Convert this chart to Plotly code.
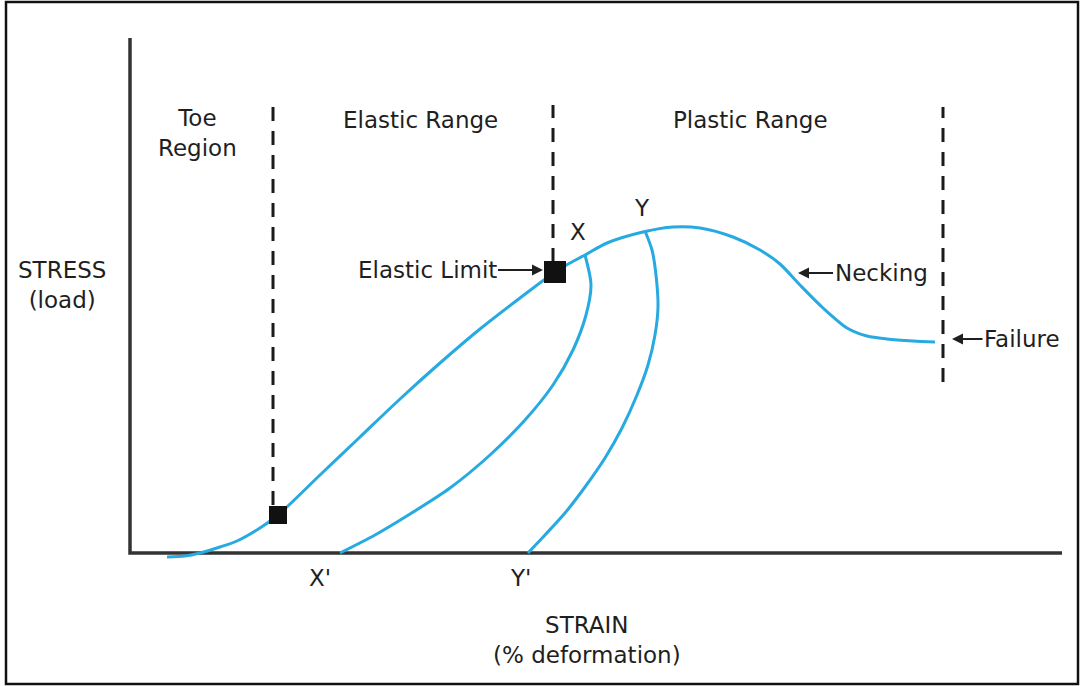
import plotly.graph_objects as go

# Units: arbitrary (no ticks in the original); strain to the right, stress upward,
# origin at the corner of the axes.
main_strain = [37, 55, 70, 90, 107, 130, 148, 190, 230, 270, 310, 350, 390, 425,
               440, 455, 477, 513, 543, 570, 603, 630, 650, 670, 693, 717, 737, 757, 783, 805]
main_stress = [-4, -3, 0, 6, 12, 25, 38, 78, 116, 154, 190, 224, 255, 281,
               290, 298, 310, 321, 326, 325, 316, 303, 289, 268, 245, 225, 217, 214, 212, 211]

x_unload_strain = [455, 461, 456, 443, 423, 395, 360, 320, 280, 245, 210]
x_unload_stress = [298, 268, 238, 203, 168, 133, 98, 65, 39, 18, 0]

y_unload_strain = [515, 522, 526, 528, 525, 518, 507, 492, 475, 455, 435, 415, 398]
y_unload_stress = [322, 303, 278, 246, 218, 188, 158, 125, 95, 66, 40, 18, 0]

point_strain = [148, 425]
point_stress = [38, 281]
point_sizes = [18, 22]

boundary_strain = [143, 423, 813]
boundary_bottom = [48, 291, 171]
boundary_top = [446, 448, 446]

region_labels = ["Toe<br>Region", "Elastic Range", "Plastic Range"]
region_label_x = [67, 290, 620]
region_label_y = [420, 433, 433]

axis_len_strain = 932
axis_len_stress = 515

BLUE = "#27a9e1"
INK = "#1f1f1f"
FONT = "DejaVu Sans"
FS = 23

fig = go.Figure()

# axes lines
fig.add_trace(go.Scatter(x=[0, 0, axis_len_strain], y=[axis_len_stress, 0, 0], mode="lines",
                         line=dict(color="#333333", width=3.5), hoverinfo="skip", showlegend=False))

# dashed boundaries
for bx, b0, b1 in zip(boundary_strain, boundary_bottom, boundary_top):
    fig.add_trace(go.Scatter(x=[bx, bx], y=[b0, b1], mode="lines",
                             line=dict(color="#1a1a1a", width=3, dash="14px,10px"),
                             hoverinfo="skip", showlegend=False))

# curves
for xs, ys in [(main_strain, main_stress), (x_unload_strain, x_unload_stress),
               (y_unload_strain, y_unload_stress)]:
    fig.add_trace(go.Scatter(x=xs, y=ys, mode="lines",
                             line=dict(color=BLUE, width=3, shape="spline", smoothing=0.8),
                             hoverinfo="skip", showlegend=False))

# square markers
fig.add_trace(go.Scatter(x=point_strain, y=point_stress, mode="markers",
                         marker=dict(symbol="square", size=point_sizes, color="#111111",
                                     opacity=1, line=dict(width=0)),
                         opacity=1, hoverinfo="skip", showlegend=False))

font = dict(family=FONT, size=FS, color=INK)
ann = []
for t, x, y in zip(region_labels, region_label_x, region_label_y):
    ann.append(dict(x=x, y=y, text=t, showarrow=False, font=font))

ann += [
    dict(x=448, y=321, text="X", showarrow=False, font=font),
    dict(x=512, y=345, text="Y", showarrow=False, font=font),
    dict(x=190, y=-25, text="X'", showarrow=False, font=font),
    dict(x=390, y=-25, text="Y'", showarrow=False, font=font),
    dict(x=-68, y=268, text="STRESS<br>(load)", showarrow=False, font=font),
    dict(x=457, y=-87, text="STRAIN<br>(% deformation)", showarrow=False, font=font),
]

for t, hx, hy, tx in [("Elastic Limit", 413, 283, 297), ("Necking", 668, 280, 751),
                      ("Failure", 822, 214, 892)]:
    ann.append(dict(x=hx, y=hy, ax=tx, ay=hy, axref="x", ayref="y", text=t, showarrow=True,
                    arrowhead=2, arrowsize=1.1, arrowwidth=2, arrowcolor=INK, font=font))

fig.update_layout(
    template="none",
    width=1082, height=686, autosize=False,
    margin=dict(l=0, r=0, t=0, b=0, pad=0),
    paper_bgcolor="white", plot_bgcolor="white",
    xaxis=dict(range=[-130, 952], visible=False, showgrid=False, zeroline=False, fixedrange=True),
    yaxis=dict(range=[-133, 553], visible=False, showgrid=False, zeroline=False, fixedrange=True),
    annotations=ann,
    shapes=[dict(type="rect", xref="paper", yref="paper",
                 x0=6 / 1082, x1=1078 / 1082, y0=1 - 684 / 686, y1=1 - 2 / 686,
                 line=dict(color="#111111", width=2.5))],
)

fig.write_html("out.html", config={"displayModeBar": False},
               post_script="document.body.style.margin='0px';")
